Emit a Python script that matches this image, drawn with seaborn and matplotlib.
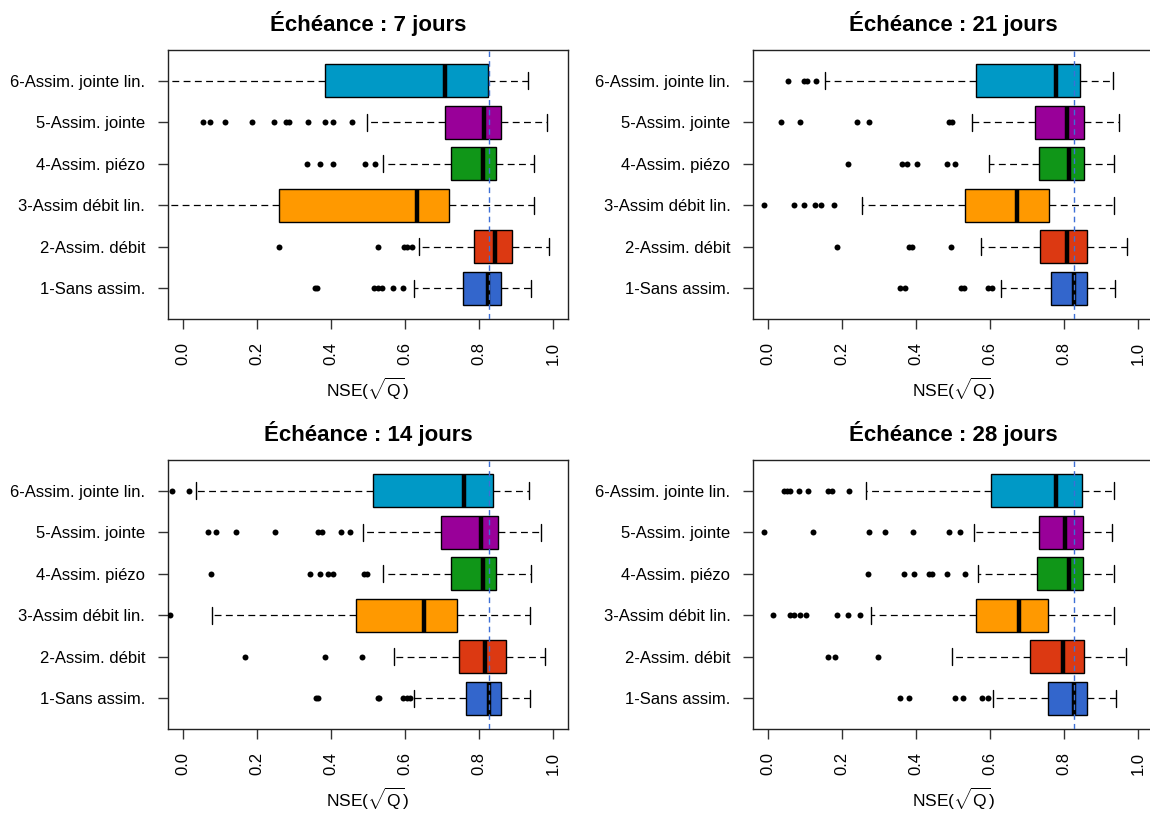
import numpy as np
import pandas as pd
import matplotlib
matplotlib.use("Agg")
import matplotlib.pyplot as plt
import seaborn as sns

sns.set_style("ticks")
plt.rcParams['font.family'] = ['Liberation Sans', 'DejaVu Sans']
plt.rcParams['mathtext.fontset'] = 'custom'
plt.rcParams['mathtext.rm'] = 'Liberation Sans'
plt.rcParams['mathtext.it'] = 'Liberation Sans:italic'
for k in ['text.color', 'axes.labelcolor', 'xtick.color', 'ytick.color']:
    plt.rcParams[k] = 'black'

# %% values
methods = ["1-Sans assim.", "2-Assim. débit", "3-Assim débit lin.",
           "4-Assim. piézo", "5-Assim. jointe", "6-Assim. jointe lin."]
colors = ["#3366CC", "#DC3912", "#FF9900", "#109618", "#990099", "#0099C6"]
horizons = [7, 21, 14, 28]   # panel order: top-left, top-right, bottom-left, bottom-right
ref_nse = 0.826

# five numbers per method: lower whisker, Q1, median, Q3, upper whisker
box_7 = [[0.624, 0.757, 0.825, 0.859, 0.942],
         [0.637, 0.787, 0.843, 0.890, 0.989],
         [-0.15, 0.259, 0.633, 0.719, 0.949],
         [0.541, 0.724, 0.810, 0.846, 0.949],
         [0.497, 0.709, 0.813, 0.861, 0.984],
         [-0.15, 0.383, 0.709, 0.825, 0.934]]
out_7 = [[0.358, 0.362, 0.517, 0.527, 0.537, 0.567, 0.595],
         [0.259, 0.527, 0.597, 0.607, 0.619],
         [],
         [0.335, 0.370, 0.406, 0.491, 0.520],
         [0.054, 0.074, 0.113, 0.186, 0.246, 0.278, 0.288, 0.338, 0.384, 0.406, 0.458],
         []]

box_21 = [[0.629, 0.765, 0.826, 0.863, 0.938],
          [0.575, 0.735, 0.808, 0.861, 0.970],
          [0.254, 0.532, 0.673, 0.759, 0.934],
          [0.596, 0.733, 0.814, 0.853, 0.934],
          [0.552, 0.720, 0.807, 0.853, 0.948],
          [0.155, 0.562, 0.778, 0.844, 0.932]]
out_21 = [[0.357, 0.370, 0.520, 0.530, 0.594, 0.604],
          [0.186, 0.380, 0.389, 0.495],
          [-0.012, 0.071, 0.096, 0.128, 0.142, 0.178],
          [0.217, 0.361, 0.375, 0.403, 0.483, 0.505],
          [0.035, 0.086, 0.241, 0.272, 0.488, 0.497],
          [0.053, 0.098, 0.106, 0.130]]

box_14 = [[0.625, 0.764, 0.827, 0.860, 0.937],
          [0.571, 0.747, 0.817, 0.873, 0.978],
          [0.078, 0.469, 0.652, 0.741, 0.937],
          [0.541, 0.724, 0.812, 0.847, 0.941],
          [0.488, 0.699, 0.807, 0.852, 0.967],
          [0.036, 0.515, 0.759, 0.837, 0.935]]
out_14 = [[0.361, 0.366, 0.527, 0.529, 0.595, 0.605, 0.615],
          [0.169, 0.383, 0.484],
          [-0.034],
          [0.076, 0.344, 0.372, 0.391, 0.406, 0.489, 0.497],
          [0.068, 0.091, 0.144, 0.249, 0.364, 0.376, 0.427, 0.452],
          [-0.029, 0.016]]

box_28 = [[0.609, 0.756, 0.826, 0.861, 0.939],
          [0.498, 0.709, 0.797, 0.853, 0.966],
          [0.278, 0.562, 0.677, 0.755, 0.934],
          [0.566, 0.727, 0.812, 0.851, 0.934],
          [0.557, 0.732, 0.802, 0.851, 0.928],
          [0.265, 0.601, 0.777, 0.848, 0.934]]
out_28 = [[0.357, 0.381, 0.505, 0.527, 0.579, 0.594],
          [0.162, 0.180, 0.296],
          [0.014, 0.058, 0.071, 0.086, 0.103, 0.185, 0.217, 0.249],
          [0.270, 0.367, 0.394, 0.434, 0.442, 0.483, 0.532],
          [-0.010, 0.121, 0.272, 0.315, 0.392, 0.489, 0.518],
          [0.043, 0.051, 0.059, 0.083, 0.108, 0.162, 0.173, 0.219]]

boxes = {7: box_7, 21: box_21, 14: box_14, 28: box_28}
outliers = {7: out_7, 21: out_21, 14: out_14, 28: out_28}


def long_df(rows):
    recs = [(m, v) for m, vals in zip(methods, rows) for v in vals]
    return pd.DataFrame(recs, columns=["method", "nse"])


# %%
order = methods[::-1]
palette = dict(zip(methods, colors))

fig = plt.figure(figsize=(11.5, 8.18), dpi=100)
W, H = 1150, 818
pos = [(168, 50), (753.3, 50), (168, 460), (753.3, 460)]
aw, ah = 399.7, 269

for h, (x0, y0) in zip(horizons, pos):
    ax = fig.add_axes([x0 / W, 1 - (y0 + ah) / H, aw / W, ah / H])
    dfb = long_df(boxes[h])
    dfo = long_df(outliers[h])
    sns.boxplot(data=dfb, x="nse", y="method", hue="method", order=order,
                hue_order=order, palette=palette, legend=False, ax=ax,
                whis=(0, 100), showfliers=False, width=0.8, saturation=1,
                linecolor="black", linewidth=1,
                medianprops=dict(color="black", linewidth=3.2, solid_capstyle="butt"),
                whiskerprops=dict(linestyle=(0, (5.5, 3.5)), linewidth=0.9),
                capprops=dict(linewidth=1))
    sns.stripplot(data=dfo, x="nse", y="method", order=order, color="black",
                  size=4.3, jitter=False, linewidth=0, ax=ax)
    ax.axvline(ref_nse, color="#3D6FD6", lw=1, ls=(0, (4, 3)), zorder=10)
    ax.set_xlim(-0.04, 1.04)
    ax.set_ylim(5.74, -0.74)
    ax.set_xticks([0, 0.2, 0.4, 0.6, 0.8, 1.0])
    ax.set_xticklabels(["0.0", "0.2", "0.4", "0.6", "0.8", "1.0"], rotation=90)
    ax.tick_params(axis="both", labelsize=12, length=7.5, width=1, color="#333333")
    ax.tick_params(axis="y", pad=9)
    ax.tick_params(axis="x", pad=9)
    for s in ax.spines.values():
        s.set_visible(True)
        s.set_linewidth(1)
        s.set_color("#222222")
    ax.set_ylabel("")
    ax.set_xlabel(r"NSE($\sqrt{\mathrm{Q}}$)", fontsize=12.5, labelpad=8)
    ax.set_title(f"Échéance : {h} jours", fontsize=16, fontweight="bold", pad=14)

fig.savefig("out.png", dpi=100)
